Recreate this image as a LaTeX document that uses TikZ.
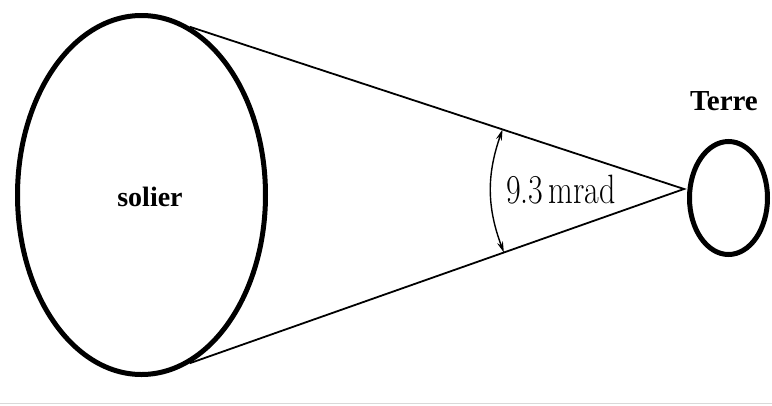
\documentclass[tikz,border=0pt]{standalone}
\usepackage{fontspec}
\newfontfamily\labelfont{Liberation Serif}
\usetikzlibrary{shapes.geometric, arrows.meta, calc}

\begin{document}
\begin{tikzpicture}[
        x=1pt, y=-1pt,
        body/.style={ellipse, draw=black, line width=5pt, inner sep=0pt},
        cone/.style={draw=black, line width=1.8pt},
        span/.style={{Stealth[length=11pt, width=6pt]}-{Stealth[length=11pt, width=6pt]}, line width=1.4pt},
        tag/.style={font=\labelfont\bfseries\fontsize{28}{28}\selectfont, inner sep=0pt}
    ]
        \useasboundingbox (0, 0) rectangle (772, 405);
        \node[body, minimum width=248pt, minimum height=359pt] (sun) at (141.5, 195) {};
        \node[body, minimum width=78pt, minimum height=113pt] (earth) at (728.5, 198) {};
        \node[tag] (sunname) at (150, 197) {solier};
        \node[tag, font=\labelfont\bfseries\fontsize{29}{29}\selectfont] (earthname) at (724, 101) {Terre};
        \coordinate (apex) at (684, 189);
        \draw[cone] (sun.74) -- (apex) -- (sun.-74);
        \coordinate (top) at ($(apex)!191pt!(sun.74)$);
        \coordinate (bot) at ($(apex)!191pt!(sun.-74)$);
        \draw[span] (top) to[bend right=20] (bot);
        \node[xscale=0.78, transform shape, font=\fontsize{41}{41}\selectfont, inner sep=0pt] (mrad) at (561, 190) {9.3\,mrad};
        \draw[gray!30, line width=1pt] (0, 403) -- (772, 403);
    \end{tikzpicture}
\end{document}
